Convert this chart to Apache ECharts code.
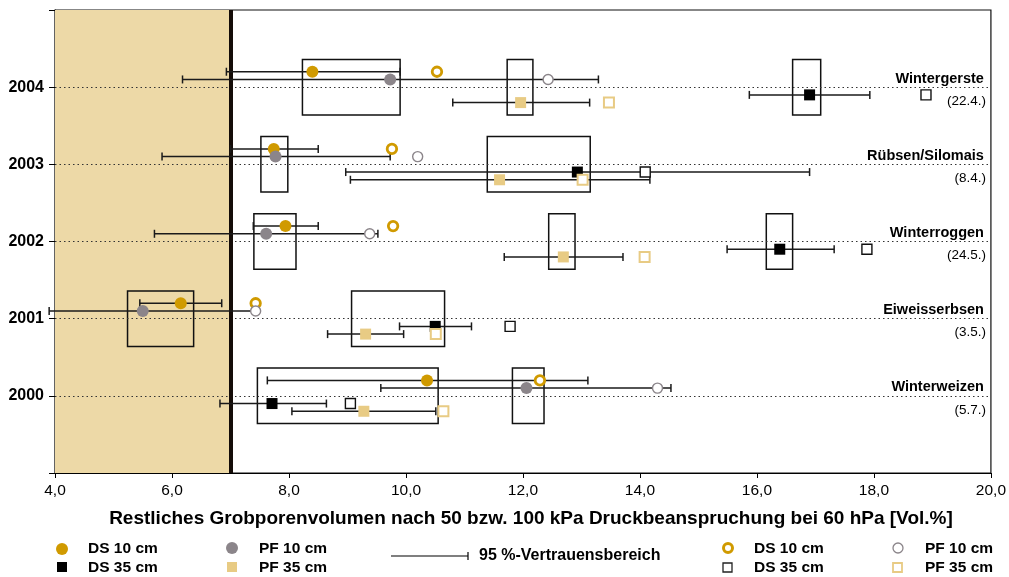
<!DOCTYPE html>
<html><head><meta charset="utf-8">
<script src="https://cdn.jsdelivr.net/npm/echarts@6/dist/echarts.min.js"></script>
<style>html,body{margin:0;padding:0;background:#fff}#c{width:1009px;height:577px}</style>
</head><body><div id="c"></div>
<script>
const years = [2004, 2003, 2002, 2001, 2000];
const crops = ['Wintergerste', 'Rübsen/Silomais', 'Winterroggen', 'Eiweisserbsen', 'Winterweizen'];
const dates = ['(22.4.)', '(8.4.)', '(24.5.)', '(3.5.)', '(5.7.)'];
const xTicks = [4, 6, 8, 10, 12, 14, 16, 18, 20];
const limitValue = 7.0;

const ds10     = [8.40, 7.74, 7.94, 6.15, 10.36];
const ds10Lo   = [6.93, 7.00, 7.39, 5.45, 7.63];
const ds10Hi   = [9.90, 8.50, 8.50, 6.85, 13.11];
const ds10Open = [10.53, 9.76, 9.78, 7.43, 12.29];

const pf10     = [9.73, 7.77, 7.61, 5.50, 12.06];
const pf10Lo   = [6.18, 5.83, 5.70, 3.90, 9.57];
const pf10Hi   = [13.29, 9.73, 9.52, 7.46, 14.53];
const pf10Open = [12.43, 10.20, 9.38, 7.43, 14.30];

const ds35     = [16.90, 12.93, 16.39, 10.50, 7.71];
const ds35Lo   = [15.87, 8.97, 15.49, 9.89, 6.82];
const ds35Hi   = [17.93, 16.90, 17.32, 11.12, 8.64];
const ds35Open = [18.89, 14.09, 17.88, 11.78, 9.05];

const pf35     = [11.96, 11.60, 12.69, 9.31, 9.28];
const pf35Lo   = [10.80, 9.05, 11.68, 8.66, 8.05];
const pf35Hi   = [13.14, 14.17, 13.71, 9.96, 10.51];
const pf35Open = [13.47, 13.02, 14.08, 10.51, 10.64];

// boxes: [year, from, to]
const boxes = [
  [2004, 8.23, 9.90], [2004, 11.73, 12.17], [2004, 16.61, 17.09],
  [2003, 7.52, 7.98], [2003, 11.39, 13.15],
  [2002, 7.40, 8.12], [2002, 12.44, 12.89], [2002, 16.16, 16.61],
  [2001, 5.24, 6.37], [2001, 9.07, 10.66],
  [2000, 7.46, 10.55], [2000, 11.82, 12.36]
];

const off = { ds10: 0.2, pf10: 0.1, ds35: -0.1, pf35: -0.2 };
const FONT = '"Liberation Sans", Arial, Helvetica, sans-serif';
const C_GOLD = '#D09A00', C_GRAY = '#8B858A', C_TAN = '#E8CB84', C_BLACK = '#000';

function pts(vals, o) { return vals.map((v, i) => [v, years[i] + o]); }
function bars(lo, hi, o) { return lo.map((v, i) => [v, hi[i], years[i] + o]); }

const errData = [].concat(
  bars(ds10Lo, ds10Hi, off.ds10), bars(pf10Lo, pf10Hi, off.pf10),
  bars(ds35Lo, ds35Hi, off.ds35), bars(pf35Lo, pf35Hi, off.pf35));

const chart = echarts.init(document.getElementById('c'));
const LW = 1.5;
const LF = 'bold 15.5px ' + FONT;
chart.setOption({
  animation: false,
  grid: { left: 55, right: 13, top: 10, bottom: 104, show: true, borderColor: '#111', borderWidth: 1.2, backgroundColor: 'transparent' },
  xAxis: {
    type: 'value', min: 4, max: 20, interval: 2,
    axisLine: { lineStyle: { color: '#000', width: 1.2 } },
    axisTick: { show: true, length: 5, lineStyle: { color: '#000' } },
    splitLine: { show: false },
    axisLabel: { color: '#000', fontSize: 15.5, fontFamily: FONT, margin: 10,
      formatter: v => xTicks.includes(v) ? v.toFixed(1).replace('.', ',') : '' },
    name: 'Restliches Grobporenvolumen nach 50 bzw. 100 kPa Druckbeanspruchung bei 60 hPa [Vol.%]',
    nameLocation: 'middle', nameGap: 36,
    nameTextStyle: { color: '#000', fontSize: 19, fontWeight: 'bold', fontFamily: FONT, padding: [0, 0, 0, 16] }
  },
  yAxis: {
    type: 'value', min: 1999, max: 2005, interval: 1,
    axisLine: { lineStyle: { color: '#000', width: 1.2 } },
    axisTick: { show: true, length: 6, lineStyle: { color: '#000' } },
    splitLine: { show: false },
    axisLabel: { color: '#000', fontSize: 16, fontWeight: 'bold', fontFamily: FONT, margin: 11,
      formatter: v => years.includes(v) ? String(v) : '' }
  },
  series: [
    { type: 'line', data: [], z: 1, silent: true,
      markArea: { silent: true, itemStyle: { color: '#EDD9A7' }, data: [[{ xAxis: 4 }, { xAxis: limitValue }]] } },
    { type: 'line', data: [], z: 2, silent: true,
      markLine: { silent: true, symbol: 'none', label: { show: false },
        lineStyle: { color: '#333', width: 1, type: [1.5, 3] }, data: years.map(y => ({ yAxis: y })) } },
    { type: 'line', data: [], z: 3, silent: true,
      markLine: { silent: true, symbol: 'none', label: { show: false },
        lineStyle: { color: '#140c08', width: 4, type: 'solid' }, data: [{ xAxis: limitValue }] } },
    { type: 'custom', z: 4, data: boxes, encode: { x: [1, 2], y: 0 },
      renderItem: (p, api) => {
        const a = api.coord([api.value(1), api.value(0) + 0.36]);
        const b = api.coord([api.value(2), api.value(0) - 0.36]);
        return { type: 'rect', shape: { x: a[0], y: a[1], width: b[0] - a[0], height: b[1] - a[1] },
          style: { fill: 'none', stroke: '#111', lineWidth: 1.5 } };
      } },
    { type: 'custom', z: 5, data: errData, encode: { x: [0, 1], y: 2 }, clip: false,
      renderItem: (p, api) => {
        const a = api.coord([api.value(0), api.value(2)]);
        const b = api.coord([api.value(1), api.value(2)]);
        const st = { stroke: '#1a1a1a', lineWidth: LW };
        return { type: 'group', children: [
          { type: 'line', shape: { x1: a[0], y1: a[1], x2: b[0], y2: b[1] }, style: st },
          { type: 'line', shape: { x1: a[0], y1: a[1] - 4, x2: a[0], y2: a[1] + 4 }, style: st },
          { type: 'line', shape: { x1: b[0], y1: b[1] - 4, x2: b[0], y2: b[1] + 4 }, style: st }
        ] };
      } },
    { type: 'scatter', z: 6, symbol: 'circle', symbolSize: 12, itemStyle: { color: C_GOLD, opacity: 1 }, data: pts(ds10, off.ds10) },
    { type: 'scatter', z: 6, symbol: 'circle', symbolSize: 12, itemStyle: { color: C_GRAY, opacity: 1 }, data: pts(pf10, off.pf10) },
    { type: 'scatter', z: 6, symbol: 'rect', symbolSize: 11, itemStyle: { color: C_BLACK, opacity: 1 }, data: pts(ds35, off.ds35) },
    { type: 'scatter', z: 6, symbol: 'rect', symbolSize: 11, itemStyle: { color: C_TAN, opacity: 1 }, data: pts(pf35, off.pf35) },
    { type: 'scatter', z: 6, symbol: 'circle', symbolSize: 9.5, itemStyle: { color: '#fff', borderColor: C_GOLD, borderWidth: 2.8, opacity: 1 }, data: pts(ds10Open, off.ds10) },
    { type: 'scatter', z: 6, symbol: 'circle', symbolSize: 10, itemStyle: { color: '#fff', borderColor: C_GRAY, borderWidth: 1.4, opacity: 1 }, data: pts(pf10Open, off.pf10) },
    { type: 'scatter', z: 6, symbol: 'rect', symbolSize: 10, itemStyle: { color: '#fff', borderColor: '#111', borderWidth: 1.4, opacity: 1 }, data: pts(ds35Open, off.ds35) },
    { type: 'scatter', z: 6, symbol: 'rect', symbolSize: 10, itemStyle: { color: '#fff', borderColor: C_TAN, borderWidth: 2, opacity: 1 }, data: pts(pf35Open, off.pf35) },
    { type: 'custom', z: 7, data: years.map((y, i) => [20, y, i]), encode: { x: 0, y: 1 },
      renderItem: (p, api) => {
        const c = api.coord([api.value(0), api.value(1)]);
        const i = api.value(2);
        return { type: 'group', children: [
          { type: 'text', x: c[0] - 7, y: c[1] - 1, style: { text: crops[i], fill: '#000', font: 'bold 14.5px ' + FONT, textAlign: 'right', textVerticalAlign: 'bottom' } },
          { type: 'text', x: c[0] - 5, y: c[1] + 14, style: { text: dates[i], fill: '#000', font: '13.5px ' + FONT, textAlign: 'right', textVerticalAlign: 'middle' } }
        ] };
      } }
  ],
  graphic: [
    { type: 'circle', shape: { cx: 62, cy: 549, r: 6 }, style: { fill: C_GOLD } },
    { type: 'rect', shape: { x: 57, y: 562, width: 10, height: 10 }, style: { fill: C_BLACK } },
    { type: 'text', x: 88, y: 549, style: { text: 'DS 10 cm', font: LF, fill: '#000', textVerticalAlign: 'middle' } },
    { type: 'text', x: 88, y: 568, style: { text: 'DS 35 cm', font: LF, fill: '#000', textVerticalAlign: 'middle' } },
    { type: 'circle', shape: { cx: 232, cy: 548, r: 6 }, style: { fill: C_GRAY } },
    { type: 'rect', shape: { x: 227, y: 562, width: 10, height: 10 }, style: { fill: C_TAN } },
    { type: 'text', x: 259, y: 549, style: { text: 'PF 10 cm', font: LF, fill: '#000', textVerticalAlign: 'middle' } },
    { type: 'text', x: 259, y: 568, style: { text: 'PF 35 cm', font: LF, fill: '#000', textVerticalAlign: 'middle' } },
    { type: 'line', shape: { x1: 391, y1: 556, x2: 468, y2: 556 }, style: { stroke: '#000', lineWidth: 1.2 } },
    { type: 'line', shape: { x1: 468, y1: 552, x2: 468, y2: 560 }, style: { stroke: '#000', lineWidth: 1.2 } },
    { type: 'text', x: 479, y: 556, style: { text: '95 %-Vertrauensbereich', font: 'bold 16px ' + FONT, fill: '#000', textVerticalAlign: 'middle' } },
    { type: 'circle', shape: { cx: 728, cy: 548, r: 4.5 }, style: { fill: '#fff', stroke: C_GOLD, lineWidth: 3 } },
    { type: 'rect', shape: { x: 723, y: 563, width: 9, height: 9 }, style: { fill: '#fff', stroke: '#222', lineWidth: 1.3 } },
    { type: 'text', x: 754, y: 549, style: { text: 'DS 10 cm', font: LF, fill: '#000', textVerticalAlign: 'middle' } },
    { type: 'text', x: 754, y: 568, style: { text: 'DS 35 cm', font: LF, fill: '#000', textVerticalAlign: 'middle' } },
    { type: 'circle', shape: { cx: 898, cy: 548, r: 5 }, style: { fill: '#fff', stroke: C_GRAY, lineWidth: 1.3 } },
    { type: 'rect', shape: { x: 893, y: 563, width: 9, height: 9 }, style: { fill: '#fff', stroke: C_TAN, lineWidth: 1.8 } },
    { type: 'text', x: 925, y: 549, style: { text: 'PF 10 cm', font: LF, fill: '#000', textVerticalAlign: 'middle' } },
    { type: 'text', x: 925, y: 568, style: { text: 'PF 35 cm', font: LF, fill: '#000', textVerticalAlign: 'middle' } }
  ]
});
</script></body></html>
